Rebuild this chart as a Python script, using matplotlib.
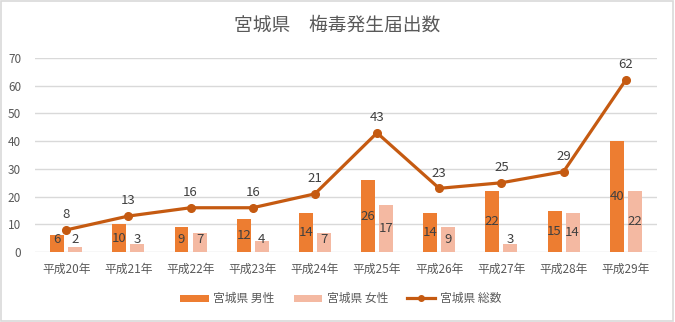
import matplotlib
matplotlib.use("Agg")
import matplotlib.pyplot as plt
import numpy as np
from matplotlib.patches import Rectangle
from matplotlib.lines import Line2D

plt.rcParams['font.family'] = ['Noto Sans CJK JP', 'DejaVu Sans']

years = ["平成20年", "平成21年", "平成22年", "平成23年", "平成24年",
         "平成25年", "平成26年", "平成27年", "平成28年", "平成29年"]
male = [6, 10, 9, 12, 14, 26, 14, 22, 15, 40]
female = [2, 3, 7, 4, 7, 17, 9, 3, 14, 22]
total = [8, 13, 16, 16, 21, 43, 23, 25, 29, 62]
series_names = ["宮城県 男性", "宮城県 女性", "宮城県 総数"]
title = "宮城県　梅毒発生届出数"

c_male = "#ED7D31"
c_female = "#F4B9A2"
c_total = "#C55A11"
c_text = "#404040"
c_axis = "#595959"
c_grid = "#D9D9D9"

fig = plt.figure(figsize=(6.75, 3.22), dpi=100)
ax = fig.add_axes([0.052, 0.217, 0.921, 0.603])

x = np.arange(len(years))
w = 0.225
off = 0.145
b1 = ax.bar(x - off, male, w, color=c_male, zorder=2, label=series_names[0])
b2 = ax.bar(x + off, female, w, color=c_female, zorder=2, label=series_names[1])
ax.plot(x, total, color=c_total, lw=2.3, marker="o", ms=5.5, zorder=3)
ln_handle = Line2D([], [], color=c_total, lw=2.3, marker="o", ms=4,
                   label=series_names[2])

for xs, vals in ((x - off, male), (x + off, female)):
    for xi, v in zip(xs, vals):
        ax.text(xi, max(v / 2, 4.6), str(v), ha="center", va="center",
                fontsize=9.5, color=c_text, zorder=4)
for xi, v in zip(x, total):
    ax.annotate(str(v), (xi, v), xytext=(0, 11), textcoords="offset points",
                ha="center", va="center", fontsize=9.5, color=c_text, zorder=4)

ax.set_xlim(-0.5, len(years) - 0.5)
ax.set_ylim(0, 70)
ax.set_yticks(range(0, 71, 10))
ax.set_xticks(x)
ax.set_xticklabels(years)
ax.yaxis.grid(True, color=c_grid, lw=1, zorder=0)
ax.set_axisbelow(True)
for s in ax.spines.values():
    s.set_visible(False)
ax.tick_params(axis="both", length=0, colors=c_axis, labelsize=8.5)
ax.tick_params(axis="x", pad=8)
ax.tick_params(axis="y", pad=10)

fig.text(0.5, 0.922, title, ha="center", va="center", fontsize=13.5, color=c_axis)

leg = fig.legend(handles=[b1, b2, ln_handle], loc="center", bbox_to_anchor=(0.505, 0.072),
                 ncol=3, frameon=False, fontsize=8.5, handlelength=2.4,
                 handleheight=0.55, columnspacing=1.6, handletextpad=0.4)
for t in leg.get_texts():
    t.set_color(c_axis)

fig.add_artist(Rectangle((0.002, 0.003), 0.995, 0.994, transform=fig.transFigure,
                         fill=False, edgecolor=c_grid, lw=1.2))

fig.savefig("out.png", dpi=100, facecolor="white")
